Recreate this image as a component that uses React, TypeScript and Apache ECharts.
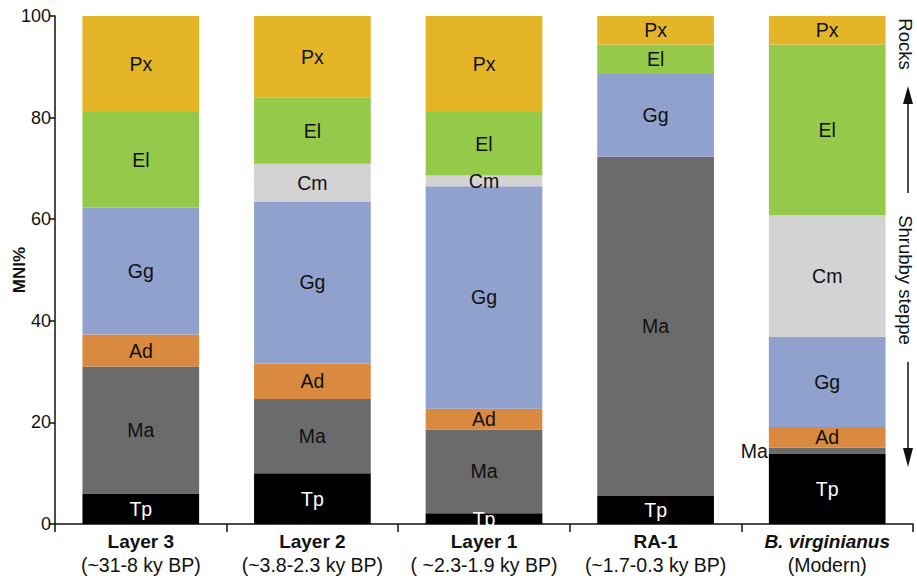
import React, { useEffect, useRef } from "react";
import * as echarts from "echarts";

// Assemblages (x axis) and their age ranges
const categories = ["Layer 3", "Layer 2", "Layer 1", "RA-1", "B. virginianus"];
const periods = ["(~31-8 ky BP)", "(~3.8-2.3 ky BP)", "( ~2.3-1.9 ky BP)", "(~1.7-0.3 ky BP)", "(Modern)"];

// Taxa stacked from bottom to top, MNI% per assemblage
const taxa = ["Tp", "Ma", "Ad", "Gg", "Cm", "El", "Px"];
const tp = [6.0, 10.0, 2.1, 5.5, 13.9];
const ma = [25.0, 14.6, 16.5, 66.8, 1.1];
const ad = [6.3, 7.0, 4.1, 0, 4.1];
const gg = [25.0, 31.9, 43.8, 16.3, 17.7];
const cm = [0, 7.4, 2.1, 0, 24.0];
const el = [18.8, 13.0, 12.5, 5.8, 33.6];
const px = [18.9, 16.1, 18.9, 5.6, 5.6];

const yTicks = [0, 20, 40, 60, 80, 100];

const colors: Record<string, string> = {
  Tp: "#000000",
  Ma: "#6b6b6b",
  Ad: "#d98a40",
  Gg: "#8fa1cc",
  Cm: "#d3d3d3",
  El: "#95c94a",
  Px: "#e5b528",
};

const FONT = "Arial, 'Liberation Sans', Helvetica, sans-serif";

export default function App() {
  const ref = useRef<HTMLDivElement>(null);

  useEffect(() => {
    if (!ref.current) return;
    const chart = echarts.init(ref.current, null, { renderer: "svg" });
    const values = [tp, ma, ad, gg, cm, el, px];

    const series = taxa.map((name, si) => ({
      name,
      type: "bar",
      stack: "mni",
      barWidth: "68%",
      itemStyle: { color: colors[name] },
      label: {
        show: true,
        position: "inside",
        formatter: "{a}",
        color: name === "Tp" ? "#ffffff" : "#111111",
        fontFamily: FONT,
        fontSize: 19.5,
      },
      data: values[si].map((v, ci) => {
        if (v <= 0) return { value: v, label: { show: false } };
        // the thin Ma slice of the modern sample is labelled beside the bar
        if (name === "Ma" && ci === 4) {
          return { value: v, label: { show: true, position: "left", distance: 1 } };
        }
        return { value: v };
      }),
    }));

    chart.setOption({
      animation: false,
      textStyle: { fontFamily: FONT },
      grid: {
        left: 55,
        right: 4,
        top: 16,
        bottom: 55,
        containLabel: false,
        outerBoundsMode: "none",
      },
      xAxis: {
        type: "category",
        data: categories,
        axisLine: { show: true, lineStyle: { color: "#111", width: 1.5 } },
        axisTick: { show: true, length: 8, lineStyle: { color: "#111", width: 1.5 } },
        axisLabel: {
          interval: 0,
          margin: 5,
          lineHeight: 24,
          formatter: (value: string, index: number) => {
            const key = index === 4 ? "bi" : "b";
            return `{${key}|${value}}\n{s|${periods[index]}}`;
          },
          rich: {
            b: { fontFamily: FONT, fontSize: 19, fontWeight: "bold", color: "#111", lineHeight: 24 },
            bi: {
              fontFamily: FONT,
              fontSize: 19,
              fontWeight: "bold",
              fontStyle: "italic",
              color: "#111",
              lineHeight: 24,
            },
            s: { fontFamily: FONT, fontSize: 19.5, color: "#111", lineHeight: 24 },
          },
        },
      },
      yAxis: {
        type: "value",
        min: yTicks[0],
        max: yTicks[yTicks.length - 1],
        interval: yTicks[1] - yTicks[0],
        name: "MNI%",
        nameLocation: "middle",
        nameRotate: 90,
        nameGap: 27,
        nameMoveOverlap: false,
        nameTextStyle: { fontFamily: FONT, fontSize: 17, fontWeight: "bold", color: "#111" },
        axisLine: { show: true, lineStyle: { color: "#111", width: 1.5 } },
        axisTick: { show: true, length: 6, lineStyle: { color: "#111", width: 1.5 } },
        splitLine: { show: false },
        axisLabel: { fontFamily: FONT, fontSize: 18, color: "#111", margin: 4 },
      },
      series,
      graphic: [
        // hides the part of the lowest label of Layer 1 that falls below the axis
        {
          type: "rect",
          z: 100,
          shape: { x: 412, y: 525, width: 120, height: 8 },
          style: { fill: "#ffffff" },
        },
        {
          type: "text",
          x: 905,
          y: 44,
          rotation: -Math.PI / 2,
          style: {
            text: "Rocks",
            fontFamily: FONT,
            fontSize: 18.5,
            fill: "#111",
            align: "center",
            verticalAlign: "middle",
          },
        },
        {
          type: "line",
          shape: { x1: 908, y1: 193, x2: 908, y2: 102 },
          style: { stroke: "#111", lineWidth: 1.5 },
        },
        {
          type: "polygon",
          shape: { points: [[903, 104], [913, 104], [908, 86]] },
          style: { fill: "#111" },
        },
        {
          type: "text",
          x: 905,
          y: 280,
          rotation: -Math.PI / 2,
          style: {
            text: "Shrubby steppe",
            fontFamily: FONT,
            fontSize: 18.5,
            fill: "#111",
            align: "center",
            verticalAlign: "middle",
          },
        },
        {
          type: "line",
          shape: { x1: 908, y1: 362, x2: 908, y2: 450 },
          style: { stroke: "#111", lineWidth: 1.5 },
        },
        {
          type: "polygon",
          shape: { points: [[903, 448], [913, 448], [908, 467]] },
          style: { fill: "#111" },
        },
      ],
    });

    return () => chart.dispose();
  }, []);

  return (
    <div
      ref={ref}
      style={{ position: "fixed", left: 0, top: 0, width: 917, height: 579, background: "#ffffff" }}
    />
  );
}
